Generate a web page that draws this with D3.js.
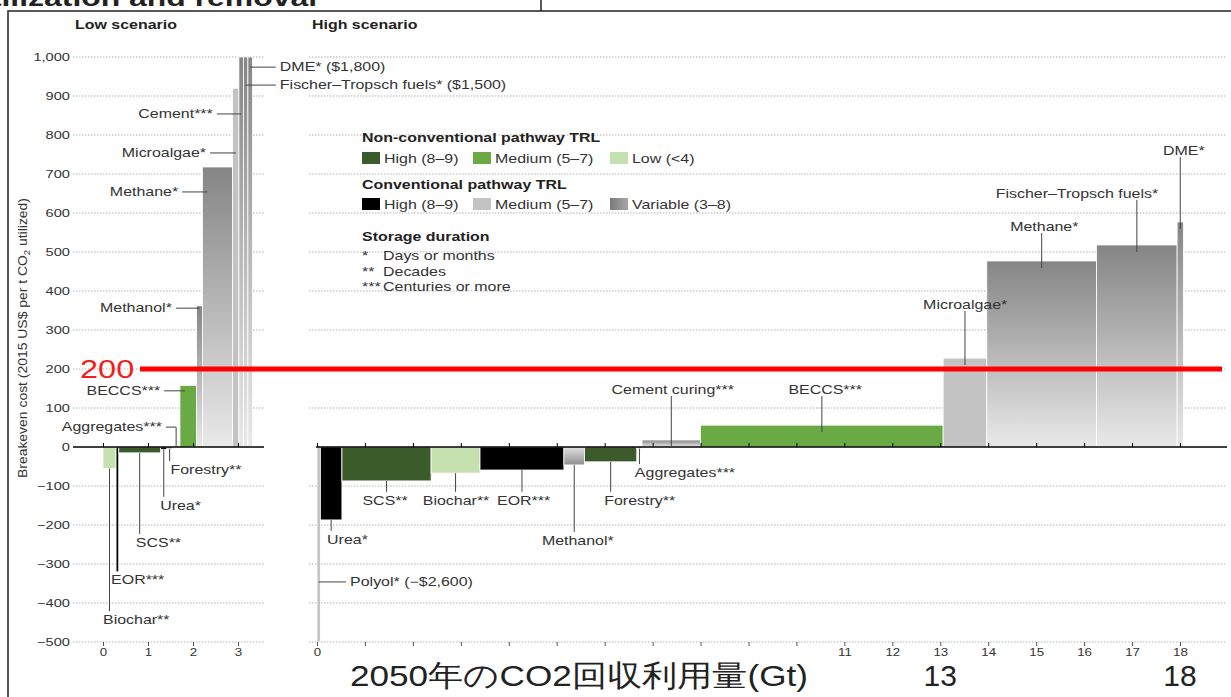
<!DOCTYPE html>
<html>
<head>
<meta charset="utf-8">
<script src="https://cdn.jsdelivr.net/npm/d3@7"></script>
<style>
  html, body { margin: 0; padding: 0; background: #fff; }
  svg { display: block; }
  text { font-family: "Liberation Sans", Arial, Helvetica, sans-serif; }
</style>
</head>
<body>
<svg id="chart" width="1231" height="697"></svg>
<script>
// ---------------- data ----------------
// Low scenario: pathways in order of breakeven cost, width = CO2 utilized in 2050 (Gt)
const lowCategories = ["Biochar", "EOR", "SCS", "Urea", "Forestry", "Aggregates", "BECCS",
  "Methanol", "Methane", "Microalgae", "Cement", "Fischer–Tropsch fuels", "DME"];
const lowStorage = ["**", "***", "**", "*", "**", "***", "***", "*", "*", "*", "***", "*", "*"];
const lowTRL = ["ncLow", "cHigh", "ncHigh", "cHigh", "ncHigh", "ncMed", "ncMed",
  "cVar", "cVar", "cMed", "cVar", "cVar", "cVar"];
const lowCapacity = [0.29, 0.06, 0.93, 0.14, 0.12, 0.17, 0.37, 0.13, 0.67, 0.14, 0.10, 0.10, 0.10];
const lowCost = [-55, -320, -15, -6, -4, 3, 158, 362, 718, 920, 1000, 1500, 1800];

// High scenario
const highCategories = ["Polyol", "Urea", "SCS", "Biochar", "EOR", "Methanol", "Forestry",
  "Aggregates", "Cement curing", "BECCS", "Microalgae", "Methane", "Fischer–Tropsch fuels", "DME"];
const highStorage = ["*", "*", "**", "**", "***", "*", "**", "***", "***", "***", "*", "*", "*", "*"];
const highTRL = ["cMed", "cHigh", "ncHigh", "ncLow", "cHigh", "cVar", "ncHigh",
  "ncMed", "cVar", "ncMed", "cMed", "cVar", "cVar", "cVar"];
const highCapacity = [0.07, 0.45, 1.86, 1.02, 1.75, 0.43, 1.09, 0.11, 1.22, 5.06, 0.91, 2.29, 1.68, 0.13];
const highCost = [-2600, -187, -87, -67, -59, -46, -38, -4, 18, 56, 228, 477, 518, 577];

// axis tick values
const costTicks = [-500, -400, -300, -200, -100, 0, 100, 200, 300, 400, 500, 600, 700, 800, 900, 1000];
const lowTicks = [0, 1, 2, 3];
const highTicks = [0, 1, 2, 3, 4, 5, 6, 7, 8, 9, 10, 11, 12, 13, 14, 15, 16, 17, 18];
const highTickLabels = [0, 11, 12, 13, 14, 15, 16, 17, 18];
const highlightTicks = [13, 18];
const threshold = 200;

// legend entries
const nonConvLegend = [["ncHigh", "High (8–9)"], ["ncMed", "Medium (5–7)"], ["ncLow", "Low (<4)"]];
const convLegend = [["cHigh", "High (8–9)"], ["cMed", "Medium (5–7)"], ["cVar", "Variable (3–8)"]];
const storageLegend = [["*", "Days or months"], ["**", "Decades"], ["***", "Centuries or more"]];

// label placement (x in Gt, y in US$ per t)
const lowNoteLayout = {
  "Biochar": { lx: 0.0, ly: -444, anchor: "start", leader: "v" },
  "EOR": { lx: 0.18, ly: -341, anchor: "start", leader: "v" },
  "SCS": { lx: 0.73, ly: -246, anchor: "start", leader: "v" },
  "Urea": { lx: 1.27, ly: -151, anchor: "start", leader: "v" },
  "Forestry": { lx: 1.5, ly: -59, anchor: "start", leader: "v" },
  "Aggregates": { lx: 1.31, ly: 51, anchor: "end", leader: "elbow" },
  "BECCS": { lx: 1.27, ly: 144, anchor: "end", leader: "h" },
  "Methanol": { lx: 1.53, ly: 356, anchor: "end", leader: "h" },
  "Methane": { lx: 1.67, ly: 654, anchor: "end", leader: "h" },
  "Microalgae": { lx: 2.29, ly: 754, anchor: "end", leader: "h" },
  "Cement": { lx: 2.44, ly: 854, anchor: "end", leader: "h" },
  "Fischer–Tropsch fuels": { lx: 3.93, ly: 928, anchor: "start", leader: "h" },
  "DME": { lx: 3.93, ly: 974, anchor: "start", leader: "h" }
};
const highNoteLayout = {
  "Polyol": { lx: 0.69, ly: -346, anchor: "start", leader: "h" },
  "Urea": { lx: 0.21, ly: -238, anchor: "start", leader: "v" },
  "SCS": { lx: 1.42, ly: -138, anchor: "middle", leader: "v" },
  "Biochar": { lx: 2.9, ly: -138, anchor: "middle", leader: "v" },
  "EOR": { lx: 4.31, ly: -138, anchor: "middle", leader: "v" },
  "Methanol": { lx: 5.44, ly: -241, anchor: "middle", leader: "v" },
  "Forestry": { lx: 6.73, ly: -138, anchor: "middle", leader: "v" },
  "Aggregates": { lx: 6.63, ly: -67, anchor: "start", leader: "v" },
  "Cement curing": { lx: 7.42, ly: 146, anchor: "middle", leader: "v" },
  "BECCS": { lx: 10.6, ly: 146, anchor: "middle", leader: "v" },
  "Microalgae": { lx: 13.52, ly: 364, anchor: "middle", leader: "v" },
  "Methane": { lx: 15.17, ly: 564, anchor: "middle", leader: "v" },
  "Fischer–Tropsch fuels": { lx: 15.85, ly: 649, anchor: "middle", leader: "v" },
  "DME": { lx: 18.08, ly: 759, anchor: "middle", leader: "v" }
};

// ---------------- drawing ----------------
const SX = 1.33;            // horizontal stretch of the typeset text
const svg = d3.select("#chart");

const defs = svg.append("defs");
function grad(id, x2, y2, c0, c1) {
  const g = defs.append("linearGradient").attr("id", id)
    .attr("x1", 0).attr("y1", 0).attr("x2", x2).attr("y2", y2);
  g.append("stop").attr("offset", "0%").attr("stop-color", c0);
  g.append("stop").attr("offset", "100%").attr("stop-color", c1);
}
grad("varPos", 0, 1, "#858585", "#e9e9e9");
grad("varNeg", 0, 1, "#e2e2e2", "#8e8e8e");
grad("varKey", 1, 0, "#7a7a7a", "#a8a8a8");

const trlFill = {
  ncHigh: "#3b5b2b", ncMed: "#6aaa45", ncLow: "#c4e1af",
  cHigh: "#000000", cMed: "#c3c3c3", cVar: "url(#varPos)"
};
function fillFor(trl, v) {
  if (trl === "cVar") return v < 0 ? "url(#varNeg)" : "url(#varPos)";
  return trlFill[trl];
}

const y = d3.scaleLinear().domain([-500, 1000]).range([642, 57]).clamp(true);
const lowX = d3.scaleLinear().domain([0, 3]).range([103, 238]);
const highX = d3.scaleLinear().domain([0, 18]).range([317, 1180]);

function stretchText(g, x, yy, str, anchor, size, weight, color) {
  return g.append("text")
    .attr("transform", `translate(${x},${yy}) scale(${SX},1)`)
    .attr("text-anchor", anchor || "start")
    .attr("font-size", size || 12)
    .attr("font-weight", weight || "normal")
    .attr("fill", color || "#333")
    .text(str);
}

// frame and the slide heading running off the top edge
stretchText(svg, 317, 6, "utilization and removal", "end", 24, "bold", "#222");
svg.append("path").attr("d", "M8,697 V11 H1231").attr("fill", "none")
  .attr("stroke", "#222").attr("stroke-width", 1.5);
svg.append("line").attr("x1", 541).attr("x2", 541).attr("y1", 0).attr("y2", 11)
  .attr("stroke", "#222").attr("stroke-width", 1.5);

// panel titles
stretchText(svg, 75, 29, "Low scenario", "start", 12, "bold", "#222");
stretchText(svg, 312, 29, "High scenario", "start", 12, "bold", "#222");

// gridlines
const gridG = svg.append("g");
function grid(x0, x1) {
  gridG.selectAll(null).data(costTicks.filter(d => d !== 0)).enter().append("line")
    .attr("x1", x0).attr("x2", x1).attr("y1", d => y(d)).attr("y2", d => y(d))
    .attr("stroke", "#9a9a9a").attr("stroke-width", 0.8).attr("stroke-dasharray", "1.5,1.5");
}
grid(73, 265);
grid(309, 1225);

// y axis labels
const yAxisG = svg.append("g").attr("transform", "translate(73,0)")
  .call(d3.axisLeft(y).tickValues(costTicks).tickSize(0).tickPadding(3).tickFormat(d3.format(",")));
yAxisG.select(".domain").remove();
yAxisG.selectAll("text")
  .attr("font-size", 11).attr("fill", "#333").attr("font-family", null)
  .attr("x", -3 / SX).attr("transform", `scale(${SX},1)`);

// y axis title
const yTitle = svg.append("text")
  .attr("transform", "translate(27,338) rotate(-90)")
  .attr("text-anchor", "middle").attr("font-size", 12.5).attr("fill", "#333")
  .attr("textLength", 280).attr("lengthAdjust", "spacingAndGlyphs");
yTitle.append("tspan").text("Breakeven cost (2015 US$ per t CO");
yTitle.append("tspan").attr("font-size", 8.5).attr("dy", 3).text("2");
yTitle.append("tspan").attr("dy", -3).text(" utilized)");

// bars for a panel
function buildRows(cats, storage, trl, cap, cost) {
  let acc = 0;
  return cats.map((c, i) => {
    const r = { name: c, storage: storage[i], trl: trl[i], x0: acc, x1: acc + cap[i], v: cost[i] };
    acc += cap[i];
    return r;
  });
}
const lowRows = buildRows(lowCategories, lowStorage, lowTRL, lowCapacity, lowCost);
const highRows = buildRows(highCategories, highStorage, highTRL, highCapacity, highCost);

function drawBars(rows, xs) {
  svg.append("g").selectAll("rect").data(rows).enter().append("rect")
    .attr("x", d => xs(d.x0))
    .attr("width", d => xs(d.x1) - xs(d.x0))
    .attr("y", d => Math.min(y(d.v), y(0)))
    .attr("height", d => Math.abs(y(d.v) - y(0)))
    .attr("fill", d => fillFor(d.trl, d.v))
    .attr("stroke", "#fff").attr("stroke-width", 0.8);
}
drawBars(lowRows, lowX);
drawBars(highRows, highX);

// zero lines with upward ticks
function zeroAxis(xs, ticks, x0, x1) {
  const g = svg.append("g").attr("transform", `translate(0,${y(0)})`)
    .call(d3.axisTop(xs).tickValues(ticks).tickSize(4).tickFormat(""));
  g.select(".domain").remove();
  g.selectAll("line").attr("stroke", "#000");
  svg.append("line").attr("x1", x0).attr("x2", x1).attr("y1", y(0)).attr("y2", y(0))
    .attr("stroke", "#000").attr("stroke-width", 1.6);
}
zeroAxis(lowX, lowTicks, 73, 264);
zeroAxis(highX, highTicks, 316, 1227);

// bottom axes
function bottomAxis(xs, ticks, fmt) {
  const g = svg.append("g").attr("transform", `translate(0,${y(-500)})`)
    .call(d3.axisBottom(xs).tickValues(ticks).tickSize(4).tickPadding(3).tickFormat(fmt));
  g.select(".domain").remove();
  g.selectAll("line").attr("stroke", "#555");
  g.selectAll("text").attr("font-size", 10).attr("fill", "#333").attr("font-family", null)
    .attr("transform", `scale(${SX},1)`);
}
bottomAxis(lowX, lowTicks, d => d);
bottomAxis(highX, highTicks, d => highTickLabels.includes(d) ? d : "");

// threshold line
svg.append("line").attr("x1", 140).attr("x2", 1222)
  .attr("y1", y(threshold)).attr("y2", y(threshold))
  .attr("stroke", "#ff0000").attr("stroke-width", 5);
svg.append("text").attr("transform", `translate(80,${y(threshold) + 9}) scale(1.3,1)`)
  .attr("font-size", 25).attr("fill", "#f21d1d").text(threshold);

// pathway labels with leader lines
const fmtMoney = v => (v < 0 ? "−" : "") + "$" + d3.format(",")(Math.abs(v));
function labelText(r) {
  let s = r.name + r.storage;
  if (r.v > 1000 || r.v < -500) s += " (" + fmtMoney(r.v) + ")";
  return s;
}
function drawNotes(rows, xs, layout) {
  const g = svg.append("g");
  rows.forEach(r => {
    const L = layout[r.name];
    if (!L) return;
    const tx = xs(L.lx), ty = y(L.ly);
    const bx = (xs(r.x0) + xs(r.x1)) / 2;
    const barW = xs(r.x1) - xs(r.x0);
    const lc = "#444";
    stretchText(g, tx, ty + 4, labelText(r), L.anchor, 12, "normal", "#333");
    if (L.leader === "h") {
      if (L.anchor === "end") {
        const target = barW > 12 ? xs(r.x0) + 5 : bx;
        g.append("line").attr("x1", tx + 4).attr("x2", target).attr("y1", ty).attr("y2", ty)
          .attr("stroke", lc).attr("stroke-width", 1);
      } else {
        g.append("line").attr("x1", bx).attr("x2", tx - 4).attr("y1", ty).attr("y2", ty)
          .attr("stroke", lc).attr("stroke-width", 1);
      }
    } else if (L.leader === "elbow") {
      g.append("path")
        .attr("d", `M${tx + 4},${ty} H${bx} V${y(r.v)}`)
        .attr("fill", "none").attr("stroke", lc).attr("stroke-width", 1);
    } else {
      let y1, y2;
      if (r.v < 0) {
        y1 = y(r.v); y2 = ty - 9;
      } else {
        y1 = ty + 6;
        y2 = Math.min(y(r.v) + 7, y(0));
      }
      if (y2 > y1) {
        g.append("line").attr("x1", bx).attr("x2", bx).attr("y1", y1).attr("y2", y2)
          .attr("stroke", lc).attr("stroke-width", 1);
      }
    }
  });
}
drawNotes(lowRows, lowX, lowNoteLayout);
drawNotes(highRows, highX, highNoteLayout);

// legend
const lg = svg.append("g");
const colX = [362, 473, 610];
stretchText(lg, 362, 142, "Non-conventional pathway TRL", "start", 12, "bold", "#222");
nonConvLegend.forEach((d, i) => {
  lg.append("rect").attr("x", colX[i]).attr("y", 152).attr("width", 18).attr("height", 12)
    .attr("fill", trlFill[d[0]]);
  stretchText(lg, colX[i] + 22, 163, d[1], "start", 12, "normal", "#333");
});
stretchText(lg, 362, 189, "Conventional pathway TRL", "start", 12, "bold", "#222");
convLegend.forEach((d, i) => {
  lg.append("rect").attr("x", colX[i]).attr("y", 198).attr("width", 18).attr("height", 12)
    .attr("fill", d[0] === "cVar" ? "url(#varKey)" : trlFill[d[0]]);
  stretchText(lg, colX[i] + 22, 209, d[1], "start", 12, "normal", "#333");
});
stretchText(lg, 362, 241, "Storage duration", "start", 12, "bold", "#222");
storageLegend.forEach((d, i) => {
  stretchText(lg, 362, 260 + i * 15.5, d[0], "start", 12, "normal", "#333");
  stretchText(lg, 383, 260 + i * 15.5, d[1], "start", 12, "normal", "#333");
});

// large axis annotation
svg.append("text").attr("x", 350).attr("y", 686)
  .attr("font-family", "'Noto Sans CJK JP', sans-serif").attr("font-size", 30)
  .attr("fill", "#222").attr("textLength", 458).attr("lengthAdjust", "spacingAndGlyphs")
  .text("2050年のCO2回収利用量(Gt)");
svg.append("g").selectAll("text").data(highlightTicks).enter().append("text")
  .attr("x", d => highX(d)).attr("y", 686).attr("text-anchor", "middle")
  .attr("font-family", "'Noto Sans CJK JP', sans-serif").attr("font-size", 30)
  .attr("fill", "#222").text(d => d);
</script>
</body>
</html>
